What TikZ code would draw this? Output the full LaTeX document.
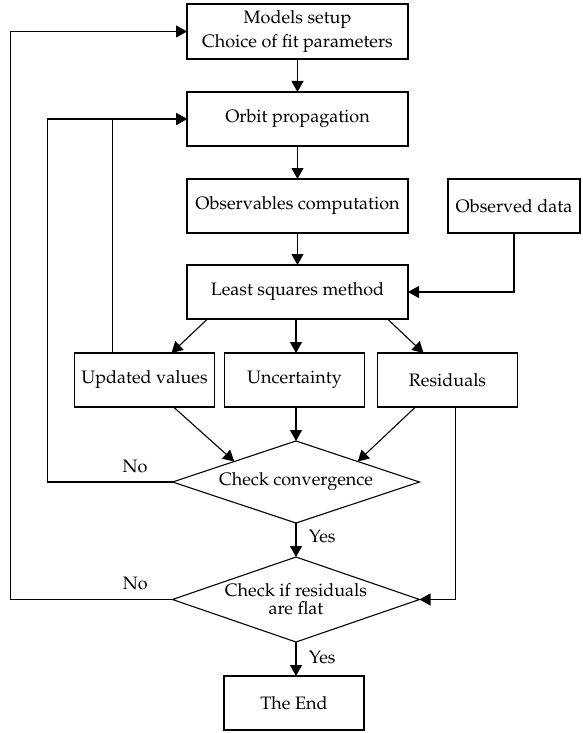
\documentclass[tikz,border=0pt]{standalone}
\usepackage[T1]{fontenc}
\usepackage{mathpazo}
\usetikzlibrary{positioning,shapes.geometric,arrows.meta}

\begin{document}
\begin{tikzpicture}[
    line width=1.1pt,
    font=\fontsize{18}{21}\selectfont,
    block/.style={draw, rectangle, inner sep=0pt, outer sep=0pt, minimum height=54pt},
    wide/.style={block, minimum width=221pt},
    small/.style={block, minimum width=140pt},
    decision/.style={draw, diamond, aspect=3, inner sep=0pt, outer sep=0pt, minimum width=247pt, align=center},
    arr/.style={-{Triangle[length=11pt,width=12pt]}}]
        \useasboundingbox (0,0) rectangle (582pt,-733pt);
        % nodes (main column)
        \node[wide, minimum height=55pt, align=center] (models) at (297.5pt,-31.5pt) {Models setup\\[3pt] Choice of fit parameters};
        \node[wide, below=33pt of models] (orbit) {Orbit propagation};
        \node[wide, below=33pt of orbit] (obscomp) {Observables computation};
        \node[block, minimum width=132pt, right=40pt of obscomp] (obsdata) {Observed data};
        \node[wide, below=32pt of obscomp] (lsq) {Least squares method};
        \node[small, below=34pt of lsq, xshift=-3pt] (uncert) {Uncertainty};
        \node[small, left=10pt of uncert] (updated) {Updated values};
        \node[small, right=13pt of uncert] (resid) {Residuals};
        % nodes (checks)
        \node[decision, minimum height=82pt, below=34pt of uncert, xshift=1.5pt] (conv) {Check convergence};
        \node[decision, minimum height=85pt, below=34pt of conv] (flat) {Check if residuals\\[-3pt] are flat};
        \node[small, below=34pt of flat, xshift=-2pt] (end) {The End};

        % edges (main column)
        \draw[arr] (models) -- (orbit);
        \draw[arr] (orbit) -- (obscomp);
        \draw[arr] (obscomp) -- (lsq);
        \draw[arr] (obsdata.south) |- (lsq.east);
        \draw[arr] ([xshift=-90pt]lsq.south) -- ([xshift=27pt]updated.north);
        \draw[arr] (lsq.south -| conv.north) -- (uncert.north -| conv.north);
        \draw[arr] ([xshift=90pt]lsq.south) -- ([xshift=-24pt]resid.north);
        \draw[arr] ([xshift=29pt]updated.south) -- (conv.north west);
        \draw[arr] (uncert.south -| conv.north) -- (conv.north);
        \draw[arr] ([xshift=-32pt]resid.south) -- (conv.north east);
        \draw[arr] (conv.south) -- node[right, xshift=9pt, yshift=4pt] {Yes} (flat.north);
        \draw[arr] (flat.south) -- node[right, xshift=9pt, yshift=2pt] {Yes} (flat.south |- end.north);

        % edges (loops back)
        \draw[arr] (conv.west) -- node[pos=0.3, above, yshift=5pt] {No} ++(-125pt,0) |- (orbit.west);
        \draw[arr] ([xshift=-32pt]updated.north) |- (orbit.west);
        \draw[arr] (flat.west) -- node[pos=0.23, above, yshift=6pt] {No} ++(-162pt,0) |- (models.west);
        \draw[arr] ([xshift=8pt]resid.south) |- (flat.east);
    \end{tikzpicture}
\end{document}
